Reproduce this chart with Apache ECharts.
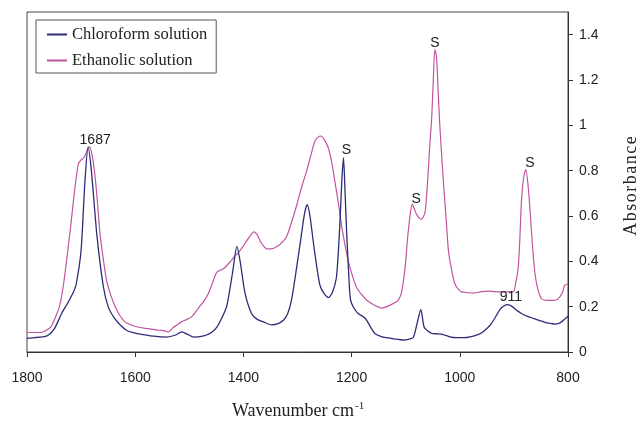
<!DOCTYPE html>
<html>
<head>
<meta charset="utf-8">
<script src="https://cdn.jsdelivr.net/npm/echarts@6/dist/echarts.min.js"></script>
<style>
html,body{margin:0;padding:0;background:#fff;}
#chart{width:641px;height:425px;}
</style>
</head>
<body>
<div id="chart"></div>
<script>
// Chloroform solution (navy)
const chloroformWn = [1800,1780,1764,1750,1736,1725,1715,1709,1700,1693,1687,1681,1671,1659,1650,1640,1628,1616,1600,1585,1565,1542,1525,1514,1503,1492,1480,1468,1458,1449,1440,1431,1420,1412,1406,1397,1385,1375,1363,1348,1336,1326,1318,1311,1303,1295,1287,1282,1277,1271,1264,1258,1250,1243,1236,1228,1222,1218,1215,1212,1209,1205,1202,1196,1188,1178,1172,1165,1157,1145,1135,1120,1104,1095,1086,1079,1072,1066,1058,1052,1040,1031,1020,1012,1000,987,975,963,954,944,935,926,918,911,903,895,886,876,866,858,848,839,830,824,817,812,806,800];
const chloroformAbs = [0.060,0.065,0.070,0.100,0.170,0.215,0.260,0.300,0.450,0.750,0.905,0.800,0.520,0.290,0.200,0.155,0.120,0.096,0.083,0.077,0.070,0.066,0.075,0.089,0.078,0.066,0.068,0.075,0.088,0.110,0.150,0.200,0.350,0.466,0.400,0.260,0.170,0.145,0.133,0.120,0.125,0.140,0.170,0.230,0.350,0.480,0.610,0.650,0.600,0.490,0.370,0.290,0.255,0.240,0.260,0.330,0.550,0.760,0.857,0.700,0.520,0.330,0.230,0.195,0.170,0.155,0.140,0.110,0.082,0.068,0.063,0.057,0.053,0.056,0.064,0.126,0.187,0.110,0.090,0.082,0.080,0.077,0.068,0.064,0.063,0.064,0.070,0.080,0.095,0.118,0.150,0.187,0.204,0.209,0.200,0.184,0.170,0.158,0.150,0.143,0.136,0.129,0.125,0.123,0.126,0.133,0.145,0.158];

// Ethanolic solution (magenta)
const ethanolWn = [1800,1774,1765,1756,1748,1740,1733,1727,1720,1714,1709,1705,1700,1696,1692,1689,1684,1679,1674,1669,1665,1659,1653,1645,1637,1628,1619,1605,1591,1580,1567,1555,1545,1539,1530,1522,1514,1505,1496,1488,1480,1472,1465,1457,1449,1437,1425,1417,1409,1401,1394,1387,1380,1374,1369,1363,1357,1348,1338,1328,1320,1310,1301,1292,1283,1275,1268,1262,1257,1250,1243,1237,1231,1224,1218,1212,1206,1199,1191,1182,1172,1160,1150,1144,1135,1126,1120,1114,1108,1104,1100,1097,1092,1088,1084,1080,1075,1071,1067,1064,1061,1058,1055,1052,1049,1046,1043,1040,1037,1033,1030,1025,1021,1015,1009,1003,997,985,975,960,947,935,926,912,901,897,892,889,886,882,878,874,870,866,861,856,849,840,827,820,815,810,806,800];
const ethanolAbs = [0.086,0.086,0.095,0.110,0.150,0.200,0.290,0.400,0.540,0.670,0.770,0.830,0.848,0.854,0.870,0.889,0.905,0.860,0.770,0.640,0.520,0.410,0.316,0.250,0.200,0.160,0.133,0.117,0.108,0.104,0.100,0.096,0.093,0.088,0.108,0.120,0.134,0.143,0.155,0.178,0.203,0.228,0.257,0.305,0.352,0.367,0.396,0.420,0.440,0.465,0.490,0.515,0.530,0.515,0.490,0.468,0.455,0.455,0.465,0.485,0.510,0.580,0.652,0.730,0.800,0.870,0.930,0.948,0.953,0.935,0.900,0.840,0.754,0.650,0.550,0.470,0.400,0.340,0.286,0.255,0.228,0.210,0.198,0.194,0.200,0.210,0.218,0.228,0.260,0.316,0.400,0.490,0.600,0.652,0.630,0.608,0.592,0.586,0.598,0.620,0.700,0.810,0.930,1.030,1.200,1.335,1.300,1.150,1.000,0.850,0.740,0.580,0.447,0.360,0.300,0.278,0.265,0.262,0.260,0.266,0.269,0.266,0.265,0.265,0.265,0.300,0.374,0.500,0.667,0.770,0.806,0.740,0.620,0.480,0.345,0.280,0.235,0.228,0.228,0.232,0.243,0.265,0.294,0.300];

// Peak annotations
const chloroNoteText = ['1687','S','911'];
const chloroNoteWn = [1687,1215,911];
const chloroNoteAbs = [0.905,0.857,0.209];
const ethanolNoteText = ['S','S','S'];
const ethanolNoteWn = [1088,1046,878];
const ethanolNoteAbs = [0.652,1.335,0.806];

const yTicks = [0,0.2,0.4,0.6,0.8,1,1.2,1.4];

const chloroOffsets = [[7,-7],[3,-8],[3,-7]];
const ethanolOffsets = [[4,-5],[0,-6],[4,-6]];

function pairs(xs, ys){ return xs.map((x,i)=>[x, ys[i]]); }
function notes(texts, xs, ys, offs){
  return texts.map((t,i)=>({
    name: t, coord: [xs[i], ys[i]],
    label: {offset: offs[i]}
  }));
}

const NAVY = '#2c2c78';
const PINK = '#c2549f';

const chart = echarts.init(document.getElementById('chart'), null, {renderer:'canvas'});
const markPointBase = {
  symbol: 'circle', symbolSize: 1,
  itemStyle: {color: 'rgba(0,0,0,0)'},
  label: {show: true, position: 'inside', formatter: '{b}', color: '#222',
          fontFamily: 'Liberation Sans, Arial, sans-serif', fontSize: 14},
  emphasis: {disabled: true}
};
chart.setOption({
  animation: false,
  backgroundColor: '#fff',
  grid: {left: 27, right: 73, top: 12, bottom: 73, show: true,
         borderColor: '#444', borderWidth: 1, backgroundColor: 'transparent'},
  legend: {
    left: 36, top: 20, orient: 'vertical',
    borderColor: '#555', borderWidth: 1, borderRadius: 0,
    padding: [6, 9, 4, 11],
    itemWidth: 20, itemHeight: 2, itemGap: 9,
    icon: 'rect',
    textStyle: {fontFamily: 'Liberation Serif, Times New Roman, serif', fontSize: 16.5, color: '#222'},
    data: ['Chloroform solution', 'Ethanolic solution']
  },
  xAxis: {
    type: 'value', inverse: true, min: 800, max: 1800, interval: 200,
    axisLine: {show: true, lineStyle: {color: '#333', width: 1}},
    axisTick: {show: true, length: 5, lineStyle: {color: '#333'}},
    axisLabel: {margin: 19, color: '#222', fontFamily: 'Liberation Sans, Arial, sans-serif', fontSize: 14,
      formatter: v => String(v)},
    splitLine: {show: false}
  },
  yAxis: {
    type: 'value', position: 'right', min: 0, max: 1.5,
    axisLine: {show: true, lineStyle: {color: '#333', width: 1}},
    axisTick: {show: true, length: 5, customValues: yTicks, lineStyle: {color: '#333'}},
    axisLabel: {margin: 11, customValues: yTicks, color: '#222', fontFamily: 'Liberation Sans, Arial, sans-serif', fontSize: 14,
      formatter: v => String(v)},
    splitLine: {show: false}
  },
  graphic: [
    {type: 'text', left: 232, top: 401, style: {
      text: 'Wavenumber cm{sup|-1}',
      rich: {sup: {fontSize: 11, verticalAlign: 'top', padding: [0,0,10,1], fontFamily: 'Liberation Serif, serif', fill: '#222'}},
      fontFamily: 'Liberation Serif, Times New Roman, serif', fontSize: 18, fill: '#222'}},
    {type: 'text', x: 631, y: 186, rotation: Math.PI/2,
      style: {text: 'A\u200Ab\u200As\u200Ao\u200Ar\u200Ab\u200Aa\u200An\u200Ac\u200Ae', align: 'center', verticalAlign: 'middle',
        fontFamily: 'Liberation Serif, Times New Roman, serif', fontSize: 18, fill: '#222'}}
  ],
  series: [
    {
      name: 'Chloroform solution', type: 'line', data: pairs(chloroformWn, chloroformAbs),
      showSymbol: false, symbol: 'none', smooth: 0.25,
      lineStyle: {color: NAVY, width: 1.3}, itemStyle: {color: NAVY},
      markPoint: Object.assign({}, markPointBase, {data: notes(chloroNoteText, chloroNoteWn, chloroNoteAbs, chloroOffsets)}),
      z: 3
    },
    {
      name: 'Ethanolic solution', type: 'line', data: pairs(ethanolWn, ethanolAbs),
      showSymbol: false, symbol: 'none', smooth: 0.25,
      lineStyle: {color: PINK, width: 1.2}, itemStyle: {color: PINK},
      markPoint: Object.assign({}, markPointBase, {data: notes(ethanolNoteText, ethanolNoteWn, ethanolNoteAbs, ethanolOffsets)}),
      z: 2
    }
  ]
});
</script>
</body>
</html>
